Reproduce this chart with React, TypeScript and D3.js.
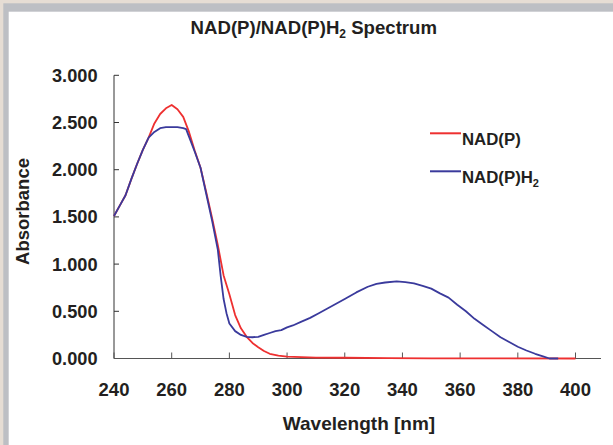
import React from 'react';
import * as d3 from 'd3';

// NAD(P) spectrum (wavelength nm / absorbance)
const nadpWavelength = [
  240, 242, 244, 246, 248, 250, 252, 254, 256, 258, 260, 262, 264, 266, 268,
  270, 272, 274, 276, 278, 280, 282, 284, 286, 288, 290, 292, 294, 297, 300,
  305, 310, 320, 335, 350, 400,
];
const nadpAbsorbance = [
  1.51, 1.62, 1.73, 1.9, 2.06, 2.21, 2.34, 2.49, 2.59, 2.65, 2.685, 2.64, 2.56,
  2.4, 2.2, 2.02, 1.76, 1.49, 1.2, 0.88, 0.68, 0.46, 0.32, 0.23, 0.165, 0.12,
  0.08, 0.05, 0.03, 0.02, 0.015, 0.01, 0.008, 0.004, 0.002, 0.0,
];

// NAD(P)H2 spectrum
const nadph2Wavelength = [
  240, 242, 244, 246, 248, 250, 252, 254, 256, 258, 262, 264, 265, 266, 268,
  270, 272, 274, 276, 277, 278, 279, 280, 282, 284, 286, 288, 290, 292, 294,
  296, 298, 300, 302, 305, 308, 311, 314, 317, 320, 324, 328, 331, 334, 338,
  341, 344, 347, 350, 353, 356, 359, 362, 365, 368, 371, 374, 377, 380, 383,
  386, 389, 391, 394,
];
const nadph2Absorbance = [
  1.51, 1.62, 1.73, 1.9, 2.06, 2.21, 2.34, 2.4, 2.44, 2.45, 2.45, 2.44, 2.43,
  2.35, 2.19, 2.02, 1.74, 1.46, 1.15, 0.87, 0.63, 0.48, 0.37, 0.29, 0.25, 0.23,
  0.225, 0.23, 0.25, 0.27, 0.29, 0.3, 0.33, 0.35, 0.39, 0.43, 0.48, 0.53, 0.58,
  0.63, 0.7, 0.76, 0.79, 0.805, 0.818, 0.81, 0.795, 0.77, 0.74, 0.69, 0.645,
  0.57, 0.5, 0.42, 0.355, 0.29, 0.225, 0.175, 0.125, 0.085, 0.05, 0.02, 0.0,
  0.0,
];

const xTicks = [240, 260, 280, 300, 320, 340, 360, 380, 400];
const yTicks = [0, 0.5, 1, 1.5, 2, 2.5, 3];

const seriesNames = ['NAD(P)', 'NAD(P)H'];
const seriesColors = ['#ee3030', '#3a3a9c'];

const W = 613;
const H = 445;
const FONT = 'Liberation Sans, Arial, sans-serif';
const TEXT = '#231f20';

const App: React.FC = () => {
  const x = d3.scaleLinear().domain([240, 400]).range([114, 575.5]);
  const y = d3.scaleLinear().domain([0, 3]).range([358.5, 75.3]);

  const line = d3
    .line<[number, number]>()
    .x((d) => x(d[0]))
    .y((d) => y(d[1]));

  const series = [
    d3.zip(nadpWavelength, nadpAbsorbance) as [number, number][],
    d3.zip(nadph2Wavelength, nadph2Absorbance) as [number, number][],
  ];

  const fmt = d3.format('.3f');

  return (
    <svg
      width={W}
      height={H}
      style={{ position: 'absolute', left: 0, top: 0 }}
      fontFamily={FONT}
    >
      {/* frame */}
      <rect x={0} y={0} width={W} height={H} fill="#e6ddd4" />
      <rect x={3.3} y={3.3} width={W} height={H} fill="#bdbfc4" />
      <rect x={8.7} y={11.7} width={W} height={H} fill="#ffffff" />

      {/* title */}
      <text
        x={313.8}
        y={34}
        textAnchor="middle"
        fontSize={18.6}
        fontWeight="bold"
        fill={TEXT}
      >
        NAD(P)/NAD(P)H
        <tspan fontSize={12} dy={4}>
          2
        </tspan>
        <tspan dy={-4}> Spectrum</tspan>
      </text>

      {/* y axis */}
      <line x1={114} x2={114} y1={y(3)} y2={y(0)} stroke="#333" strokeWidth={1} />
      {yTicks.map((t) => (
        <g key={'y' + t}>
          <line x1={114} x2={119} y1={y(t)} y2={y(t)} stroke="#333" strokeWidth={1} />
          <text
            x={97.5}
            y={y(t) + 6.5}
            textAnchor="end"
            fontSize={18.2}
            fontWeight="bold"
            fill={TEXT}
          >
            {fmt(t)}
          </text>
        </g>
      ))}

      {/* x axis */}
      <line x1={114} x2={601} y1={y(0)} y2={y(0)} stroke="#555" strokeWidth={1.2} />
      {xTicks.map((t) => (
        <g key={'x' + t}>
          <line x1={x(t)} x2={x(t)} y1={y(0)} y2={y(0) - 6} stroke="#555" strokeWidth={1} />
          <text
            x={x(t)}
            y={396}
            textAnchor="middle"
            fontSize={18.5}
            fontWeight="bold"
            fill={TEXT}
          >
            {t}
          </text>
        </g>
      ))}

      {/* axis titles */}
      <text
        x={359}
        y={430}
        textAnchor="middle"
        fontSize={19}
        fontWeight="bold"
        fill={TEXT}
      >
        Wavelength [nm]
      </text>
      <text
        transform="translate(29,211.5) rotate(-90)"
        textAnchor="middle"
        fontSize={18.5}
        fontWeight="bold"
        fill={TEXT}
      >
        Absorbance
      </text>

      {/* curves */}
      {series.map((s, i) => (
        <path
          key={'s' + i}
          d={line(s) || ''}
          fill="none"
          stroke={seriesColors[i]}
          strokeWidth={1.8}
          strokeLinejoin="round"
        />
      ))}

      {/* legend */}
      {seriesNames.map((name, i) => {
        const ly = 133.3 + i * 38;
        return (
          <g key={'l' + i}>
            <line x1={430} x2={461} y1={ly} y2={ly} stroke={seriesColors[i]} strokeWidth={2} />
            <text x={462} y={ly + 11.8} fontSize={16.8} fontWeight="bold" fill={TEXT}>
              {name}
              {i === 1 ? (
                <tspan fontSize={11} dy={4}>
                  2
                </tspan>
              ) : null}
            </text>
          </g>
        );
      })}
    </svg>
  );
};

export default App;
